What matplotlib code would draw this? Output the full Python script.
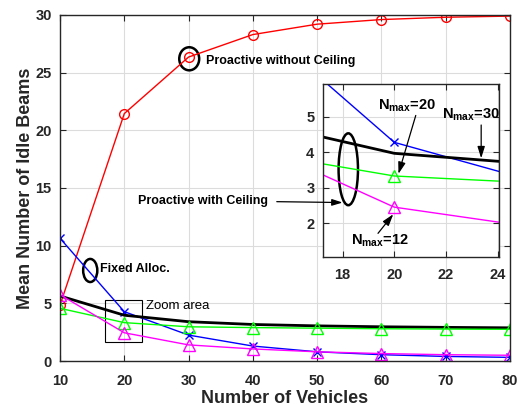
import matplotlib
matplotlib.use('Agg')
import matplotlib.pyplot as plt
from matplotlib.patches import Ellipse, Rectangle

plt.rcParams['font.family'] = ['Liberation Sans', 'DejaVu Sans']
plt.rcParams['mathtext.fontset'] = 'custom'
plt.rcParams['mathtext.bf'] = 'Liberation Sans:bold'
plt.rcParams['mathtext.rm'] = 'Liberation Sans:bold'

# mean idle beams vs number of vehicles
vehicles = [10, 20, 30, 40, 50, 60, 70, 80]
no_ceiling = [4.85, 21.45, 26.35, 28.3, 29.2, 29.6, 29.8, 29.9]
fixed_alloc = [10.64, 4.28, 2.25, 1.3, 0.8, 0.55, 0.4, 0.32]
nmax_30 = [5.64, 3.97, 3.41, 3.17, 3.05, 2.97, 2.92, 2.88]
nmax_20 = [4.57, 3.33, 2.97, 2.9, 2.85, 2.8, 2.77, 2.75]
nmax_12 = [5.75, 2.45, 1.4, 1.05, 0.8, 0.65, 0.55, 0.5]

xticks = [10, 20, 30, 40, 50, 60, 70, 80]
yticks = [0, 5, 10, 15, 20, 25, 30]
inset_xticks = [18, 20, 22, 24]
inset_yticks = [2, 3, 4, 5]

axcol = '#262626'


def style(ax, xpad, ypad):
    ax.grid(True, color='#dcdcdc', linewidth=0.8)
    ax.set_axisbelow(True)
    ax.tick_params(direction='in', top=True, right=True, colors=axcol,
                   labelsize=10.5, length=4)
    ax.tick_params(axis='x', pad=xpad)
    ax.tick_params(axis='y', pad=ypad)
    for lbl in ax.get_xticklabels() + ax.get_yticklabels():
        lbl.set_fontweight('bold')
    for s in ax.spines.values():
        s.set_color(axcol)
        s.set_linewidth(1.0)


def draw_series(ax):
    ax.plot(vehicles, no_ceiling, color='red', marker='o', ms=7, mfc='none', lw=1)
    ax.plot(vehicles, fixed_alloc, color='blue', marker='x', ms=6, lw=1)
    ax.plot(vehicles, nmax_30, color='black', lw=2)
    ax.plot(vehicles, nmax_20, color='#00ff00', marker='^', ms=8, mfc='none', lw=1)
    ax.plot(vehicles, nmax_12, color='magenta', marker='^', ms=8, mfc='none', lw=1)


fig = plt.figure(figsize=(5.27, 4.15), dpi=100)
ax = fig.add_axes([0.1139, 0.130, 0.8538, 0.834])
draw_series(ax)
ax.set_xlim(10, 80)
ax.set_ylim(0, 30)
ax.set_xticks(xticks)
ax.set_yticks(yticks)
style(ax, 9, 6)
ax.set_xlabel('Number of Vehicles', fontsize=13, fontweight='bold', color=axcol, labelpad=2)
ax.set_ylabel('Mean Number of Idle Beams', fontsize=13, fontweight='bold', color=axcol, labelpad=1)

# annotations in the main axes
ax.add_patch(Ellipse((30.1, 26.2), 3.1, 2.0, fill=False, lw=1.8, color='black'))
ax.text(32.7, 26.0, 'Proactive without Ceiling', fontsize=9, fontweight='bold', va='center')
ax.add_patch(Ellipse((14.7, 7.85), 2.2, 2.0, fill=False, lw=1.8, color='black'))
ax.text(16.2, 8.0, 'Fixed Alloc.', fontsize=9, fontweight='bold', va='center')
ax.add_patch(Rectangle((17.05, 1.62), 5.7, 3.67, fill=False, lw=0.8, color='black'))
ax.text(23.4, 4.8, 'Zoom area', fontsize=9.5, va='center')

# zoomed inset
axin = fig.add_axes([0.6123, 0.3814, 0.3346, 0.4155])
draw_series(axin)
axin.set_xlim(17.23, 24.05)
axin.set_ylim(1.05, 5.92)
axin.set_xticks(inset_xticks)
axin.set_yticks(inset_yticks)
style(axin, 8, 6)

arrow = dict(arrowstyle='-|>,head_length=0.7,head_width=0.22', color='black', lw=0.9,
             shrinkA=0, shrinkB=0)
axin.add_patch(Ellipse((18.22, 3.52), 0.75, 2.03, fill=False, lw=1.8, color='black'))
axin.annotate('Proactive with Ceiling', xy=(18.0, 2.58), xycoords='data',
              xytext=(22.2, 13.9), textcoords=ax.transData, fontsize=9, fontweight='bold',
              va='center', ha='left', annotation_clip=False,
              arrowprops=dict(arrow, shrinkA=4))

axin.text(19.37, 5.32, r'N$_{\mathbf{max}}$=20', fontsize=10.5, fontweight='bold', va='center')
axin.annotate('', xy=(20.16, 3.39), xytext=(20.83, 5.04), arrowprops=arrow)
axin.text(21.83, 5.06, r'N$_{\mathbf{max}}$=30', fontsize=10.5, fontweight='bold', va='center')
axin.annotate('', xy=(23.36, 3.83), xytext=(23.36, 4.77), arrowprops=arrow)
axin.text(18.34, 1.5, r'N$_{\mathbf{max}}$=12', fontsize=10.5, fontweight='bold', va='center')
axin.annotate('', xy=(19.96, 2.25), xytext=(19.37, 1.71), arrowprops=arrow)

fig.savefig('out.png', dpi=100)
